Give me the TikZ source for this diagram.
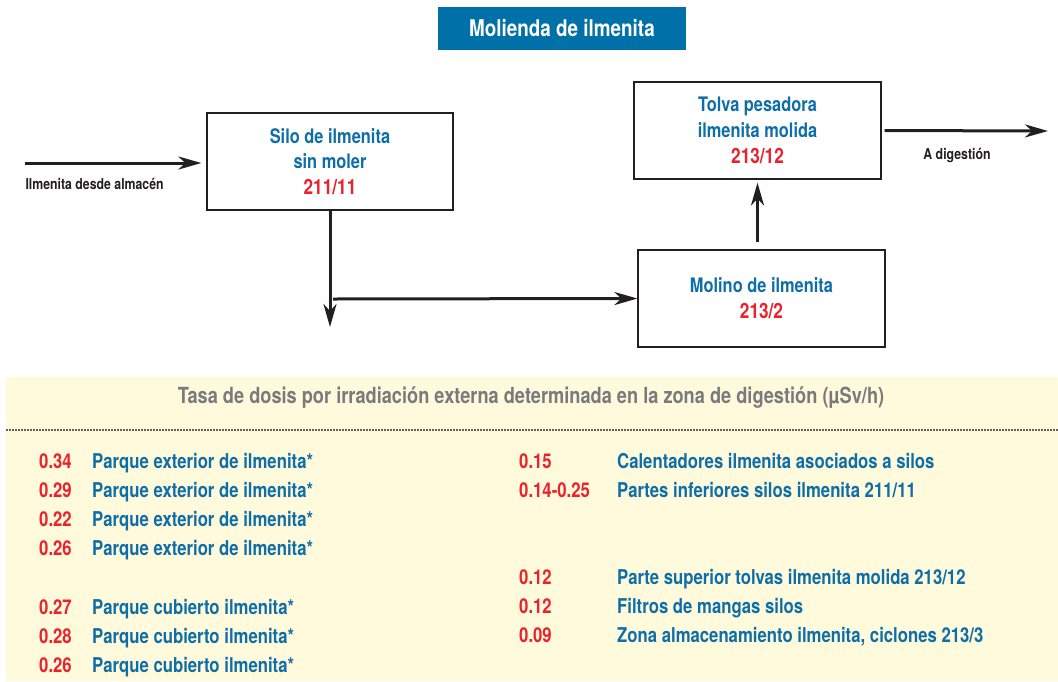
\documentclass[tikz,border=0pt]{standalone}
\usepackage{fontspec}
\setmainfont{TeX Gyre Heros}[FakeStretch=0.82]
\usepackage{tikz}
\usetikzlibrary{calc, arrows.meta, positioning}

\definecolor{tituloazul}{RGB}{0,112,168}
\definecolor{textoazul}{RGB}{14,110,168}
\definecolor{cifrarojo}{RGB}{234,34,44}
\definecolor{panelcrema}{RGB}{255,250,220}
\definecolor{titulogris}{RGB}{122,122,126}
\definecolor{trazo}{RGB}{35,31,32}

\tikzset{
    equipo/.style={draw=trazo, line width=1.2pt, fill=white, minimum width=246pt,
        minimum height=97pt, inner sep=0pt, align=center, text=textoazul,
        font=\fontsize{20}{25.7}\selectfont\bfseries},
    flujo/.style={draw=trazo, line width=3pt,
        -{Stealth[length=23pt, width=13pt, inset=7pt]}},
    rotulo/.style={text=trazo, font=\fontsize{15}{17}\selectfont\bfseries},
    cifra/.style={anchor=base west, inner sep=0pt, text=cifrarojo,
        font=\fontsize{20.4}{24}\selectfont\bfseries},
    zona/.style={anchor=base west, inner sep=0pt, text=textoazul,
        font=\fontsize{20.4}{24}\selectfont\bfseries},
}

\begin{document}
\begin{tikzpicture}[x=1pt, y=-1pt]
    \useasboundingbox (0,0) rectangle (1058,681);

    % cabecera
    \node[fill=tituloazul, minimum width=248pt, minimum height=43pt, text=white,
        font=\fontsize{23}{26}\selectfont\bfseries] (titulo) at (562,28.5) {Molienda de ilmenita};

    % equipos
    \node[equipo] (silo) at (330,161.5) {Silo de ilmenita\\sin moler\\\textcolor{cifrarojo}{\fontsize{21}{25.7}\selectfont 211/11}};
    \node[equipo, minimum width=247pt] (tolva) at (757.5,130.5) {Tolva pesadora\\ilmenita molida\\\textcolor{cifrarojo}{\fontsize{21}{25.7}\selectfont 213/12}};
    \node[equipo, minimum width=247pt] (molino) at (761.5,298.5) {Molino de ilmenita\\\textcolor{cifrarojo}{\fontsize{21}{25.7}\selectfont 213/2}};

    % flujos
    \coordinate (almacen) at (25,163);
    \coordinate (caida) at (330,327);
    \coordinate (salida) at (1048,131);
    \draw[flujo, shorten >=5pt] (almacen) -- (almacen -| silo.west);
    \node[rotulo, anchor=west] (desde) at (22,184) {Ilmenita desde almacén};
    \draw[flujo] (silo.south) -- (caida);
    \draw[flujo] (333,299) -- (molino.west);
    \draw[flujo, shorten <=7pt, shorten >=3pt] (tolva.south |- molino.north) -- (tolva.south);
    \draw[flujo, shorten <=3pt] (tolva.east) -- (salida);
    \node[rotulo] (destino) at (957,155) {A digestión};

    % tabla de tasas de dosis
    \fill[panelcrema] (6,377) rectangle (1058,681);
    \node[text=titulogris, font=\fontsize{22.2}{25}\selectfont\bfseries] (tasa) at (531,398)
        {Tasa de dosis por irradiación externa determinada en la zona de digestión (µSv/h)};
    \draw[titulogris!80!black, line width=1.6pt, dash pattern=on 1.6pt off 1.4pt] (6,430) -- (1058,430);

    \node[cifra] (c1) at (39,468) {0.34};
    \node[zona] (z1) at (92,468) {Parque exterior de ilmenita*};
    \node[cifra] (c2) at (39,497) {0.29};
    \node[zona] (z2) at (92,497) {Parque exterior de ilmenita*};
    \node[cifra] (c3) at (39,526) {0.22};
    \node[zona] (z3) at (92,526) {Parque exterior de ilmenita*};
    \node[cifra] (c4) at (39,555) {0.26};
    \node[zona] (z4) at (92,555) {Parque exterior de ilmenita*};
    \node[cifra] (c5) at (39,614) {0.27};
    \node[zona] (z5) at (92,614) {Parque cubierto ilmenita*};
    \node[cifra] (c6) at (39,643) {0.28};
    \node[zona] (z6) at (92,643) {Parque cubierto ilmenita*};
    \node[cifra] (c7) at (39,672) {0.26};
    \node[zona] (z7) at (92,672) {Parque cubierto ilmenita*};

    \node[cifra] (c8) at (519,468) {0.15};
    \node[zona] (z8) at (617,468) {Calentadores ilmenita asociados a silos};
    \node[cifra] (c9) at (519,497) {0.14-0.25};
    \node[zona] (z9) at (617,497) {Partes inferiores silos ilmenita 211/11};
    \node[cifra] (c10) at (519,584) {0.12};
    \node[zona] (z10) at (617,584) {Parte superior tolvas ilmenita molida 213/12};
    \node[cifra] (c11) at (519,613) {0.12};
    \node[zona] (z11) at (617,613) {Filtros de mangas silos};
    \node[cifra] (c12) at (519,642) {0.09};
    \node[zona] (z12) at (617,642) {Zona almacenamiento ilmenita, ciclones 213/3};
\end{tikzpicture}
\end{document}
